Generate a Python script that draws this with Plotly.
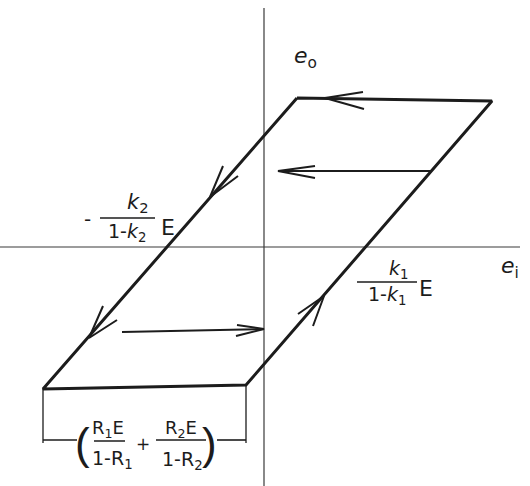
import plotly.graph_objects as go

# ---- data (diagram units: origin at axes crossing, e_o upward) ----
axis_h_ei = [-264, 256]
axis_h_eo = [0, 0]
axis_v_ei = [0, 0]
axis_v_eo = [239, -239]

# hysteresis loop corners: TL, TR, BR, BL, back to TL
loop_ei = [33, 228, -18, -221, 33]
loop_eo = [149, 146, -138, -142, 149]

# inner transition arrows (start -> tip)
inner_top_ei = [168, 14]
inner_top_eo = [76, 76]
inner_bot_ei = [-142, 0]
inner_bot_eo = [-85, -82]

# arrowheads: arm1, tip, arm2
heads = {
    "top_edge":   ([99, 61, 100], [155, 149, 138]),
    "inner_top":  ([51, 14, 51], [81, 76, 69]),
    "left_up":    ([-41, -54, -26], [81, 50, 71]),
    "left_low":   ([-161, -175, -147], [-59, -91, -73]),
    "inner_bot":  ([-27, 0, -28], [-78, -82, -89]),
    "right_edge": ([34, 60, 49], [-67, -49, -79]),
}

# dimension lines
dim_tick_left_ei = [-221, -221]
dim_tick_left_eo = [-142, -196]
dim_tick_right_ei = [-18, -18]
dim_tick_right_eo = [-138, -196]
dim_left_ei = [-221, -187]
dim_left_eo = [-193, -193]
dim_right_ei = [-47, -18]
dim_right_eo = [-193, -193]

ink = "#1c1c1c"
font_name = "DejaVu Sans"

fig = go.Figure()

def line(xs, ys, w, color=ink):
    fig.add_trace(go.Scatter(x=xs, y=ys, mode="lines",
                             line=dict(color=color, width=w),
                             hoverinfo="skip", showlegend=False))

line(axis_h_ei, axis_h_eo, 1.2, "#3a3a3a")
line(axis_v_ei, axis_v_eo, 1.2, "#3a3a3a")
line(loop_ei, loop_eo, 3)
line(inner_top_ei, inner_top_eo, 2)
line(inner_bot_ei, inner_bot_eo, 2)
for xs, ys in heads.values():
    line(xs, ys, 2)
line(dim_tick_left_ei, dim_tick_left_eo, 1.3)
line(dim_tick_right_ei, dim_tick_right_eo, 1.3)
line(dim_left_ei, dim_left_eo, 1.6)
line(dim_right_ei, dim_right_eo, 1.6)

# fraction bars
bars = [
    ((-164, -109), 29),
    ((93, 153), -35),
    ((-170, -139), -194),
    ((-108, -58), -193),
]
for (x0, x1), yb in bars:
    line([x0, x1], [yb, yb], 1.5)

def txt(x, y, s, size=20, family=font_name):
    fig.add_annotation(x=x, y=y, text=s, showarrow=False,
                       xref="x", yref="y",
                       font=dict(family=family, size=size, color=ink),
                       xanchor="center", yanchor="middle")

txt(41, 190, "<i>e</i><sub>o</sub>", 22)
txt(246, -20, "<i>e</i><sub>i</sub>", 22)

# -k2/(1-k2) E
txt(-177, 28, "-", 20)
txt(-126, 44, "<i>k</i><sub>2</sub>", 21)
txt(-137, 15, "1-<i>k</i><sub>2</sub>", 19)
txt(-96, 20, "E", 22)

# k1/(1-k1) E
txt(134, -22, "<i>k</i><sub>1</sub>", 19)
txt(123, -48, "1-<i>k</i><sub>1</sub>", 19)
txt(162, -41, "E", 22)

# bottom dimension label
txt(-182, -196, "(", 44, "Liberation Sans")
txt(-55, -196, ")", 44, "Liberation Sans")
txt(-156, -182, "R<sub>1</sub>E", 18)
txt(-152, -212, "1-R<sub>1</sub>", 19)
txt(-121, -197, "+", 17)
txt(-83, -182, "R<sub>2</sub>E", 18)
txt(-82, -213, "1-R<sub>2</sub>", 19)

fig.update_layout(
    width=530, height=486,
    margin=dict(l=0, r=0, t=0, b=0),
    paper_bgcolor="white", plot_bgcolor="white",
    xaxis=dict(range=[-264, 266], visible=False, fixedrange=True),
    yaxis=dict(range=[-239, 247], visible=False, fixedrange=True),
)

fig.write_html("out.html",
               config={"displayModeBar": False},
               post_script="document.body.style.margin='0px';document.body.style.overflow='hidden';")
